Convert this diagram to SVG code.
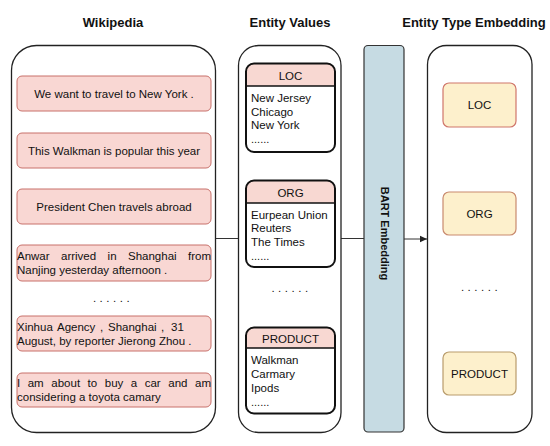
<svg xmlns="http://www.w3.org/2000/svg" width="550" height="446" viewBox="0 0 550 446">
<defs>
<style>
text{font-family:"Liberation Sans",Helvetica,Arial,sans-serif;fill:#111;}
.title{font-size:13px;font-weight:bold;text-anchor:middle;}
.t{font-size:11.5px;}
.c{text-anchor:middle;}
.e{text-anchor:end;}
.dots{font-size:11.5px;letter-spacing:3.5px;text-anchor:middle;}
.small{font-size:11px;}
.cont{fill:#fff;stroke:#222;stroke-width:1.3;}
.pink{fill:#f9d7d3;stroke:#c8716b;stroke-width:1;}
.tbl{fill:none;stroke:#111;stroke-width:2;}
.hdr{fill:#f8d8d2;}
.yel{fill:#fdf0cc;stroke-width:1.2;}
.conn{stroke:#333;stroke-width:1;fill:none;}
</style>
<marker id="arr" markerWidth="8" markerHeight="8" refX="7" refY="4" orient="auto" markerUnits="userSpaceOnUse">
<path d="M0,0.8 L7,4 L0,7.2 Z" fill="#222"/>
</marker>
</defs>
<rect width="550" height="446" fill="#fff"/>

<g id="titles">
<text class="title" x="113" y="27">Wikipedia</text>
<text class="title" x="290" y="27">Entity Values</text>
<text class="title" x="474" y="27">Entity Type Embedding</text>
</g>

<g id="connectors">
<line class="conn" x1="215" y1="238.5" x2="239" y2="238.5"/>
<line class="conn" x1="341" y1="238.5" x2="364" y2="238.5"/>
<line class="conn" x1="404" y1="239" x2="427" y2="239" marker-end="url(#arr)"/>
</g>

<g id="wikipedia">
<rect class="cont" x="11.5" y="45.5" width="204" height="387" rx="25"/>
<g id="w1"><rect class="pink" x="17" y="76" width="194" height="35" rx="5"/>
<text class="t c" x="114" y="97.5">We want to travel to New York .</text></g>
<g id="w2"><rect class="pink" x="17" y="133" width="194" height="35" rx="5"/>
<text class="t c" x="114" y="154.5">This Walkman is popular this year</text></g>
<g id="w3"><rect class="pink" x="17" y="189" width="194" height="35" rx="5"/>
<text class="t c" x="114" y="210.5">President Chen travels abroad</text></g>
<g id="w4"><rect class="pink" x="17" y="245" width="194" height="36" rx="5"/>
<text class="t" y="259.5"><tspan x="17">Anwar</tspan><tspan x="61">arrived</tspan><tspan x="107.6">in</tspan><tspan x="128">Shanghai</tspan><tspan x="211" text-anchor="end">from</tspan></text>
<text class="t" x="17" y="274">Nanjing yesterday afternoon .</text></g>
<text class="dots" x="113" y="302">......</text>
<g id="w5"><rect class="pink" x="17" y="316" width="194" height="35" rx="5"/>
<text class="t" y="331"><tspan x="17">Xinhua</tspan><tspan x="57">Agency</tspan><tspan x="100">,</tspan><tspan x="108">Shanghai</tspan><tspan x="161">,</tspan><tspan x="171">31</tspan></text>
<text class="t" x="17" y="345">August, by reporter Jierong Zhou .</text></g>
<g id="w6"><rect class="pink" x="17" y="373" width="194" height="34" rx="5"/>
<text class="t" y="387"><tspan x="17">I</tspan><tspan x="27.7">am</tspan><tspan x="51.3">about</tspan><tspan x="87.6">to</tspan><tspan x="104.8">buy</tspan><tspan x="130.8">a</tspan><tspan x="144.7">car</tspan><tspan x="168.3">and</tspan><tspan x="211" text-anchor="end">am</tspan></text>
<text class="t" x="17" y="401">considering a toyota camary</text></g>
</g>

<g id="entity-values">
<rect class="cont" x="238.5" y="45.5" width="102.5" height="387" rx="20"/>
<g id="ev-loc">
<path class="hdr" d="M246,86 V71 a8,8 0 0 1 8,-8 H327 a8,8 0 0 1 8,8 V86 Z"/>
<rect class="tbl" x="246" y="63.5" width="89" height="88.5" rx="8"/>
<line x1="246" y1="86" x2="335" y2="86" stroke="#111" stroke-width="1.5"/>
<text class="t c" x="290.5" y="80">LOC</text>
<text class="t" x="251" y="102">New Jersey</text>
<text class="t" x="251" y="115.5">Chicago</text>
<text class="t" x="251" y="129">New York</text>
<text class="small" x="251" y="143">......</text>
</g>
<g id="ev-org">
<path class="hdr" d="M246,203 V188 a8,8 0 0 1 8,-8 H327 a8,8 0 0 1 8,8 V203 Z"/>
<rect class="tbl" x="246" y="180.5" width="89" height="86.5" rx="8"/>
<line x1="246" y1="203" x2="335" y2="203" stroke="#111" stroke-width="1.5"/>
<text class="t c" x="290.5" y="196.5">ORG</text>
<text class="t" x="251" y="218.5">Eurpean Union</text>
<text class="t" x="251" y="232">Reuters</text>
<text class="t" x="251" y="245.5">The Times</text>
<text class="small" x="251" y="259.5">......</text>
</g>
<text class="dots" x="291.5" y="292">......</text>
<g id="ev-product">
<path class="hdr" d="M246,348 V335 a8,8 0 0 1 8,-8 H327 a8,8 0 0 1 8,8 V348 Z"/>
<rect class="tbl" x="246" y="327.5" width="89" height="86" rx="8"/>
<line x1="246" y1="348" x2="335" y2="348" stroke="#111" stroke-width="1.5"/>
<text class="t c" x="290.5" y="342.5">PRODUCT</text>
<text class="t" x="251" y="364">Walkman</text>
<text class="t" x="251" y="378">Carmary</text>
<text class="t" x="251" y="392">Ipods</text>
<text class="small" x="251" y="406">......</text>
</g>
</g>

<g id="bart">
<rect x="364" y="45.5" width="40" height="386.5" rx="4" fill="#c6dbe3" stroke="#333" stroke-width="1.2"/>
<text class="c" transform="translate(381,233.5) rotate(90)" x="0" y="0" style="font-size:11px;font-weight:bold;">BART Embedding</text>
</g>

<g id="entity-type-embedding">
<rect class="cont" x="427.5" y="45.5" width="104.5" height="387" rx="19"/>
<g id="et-loc"><rect class="yel" x="443" y="83" width="73" height="44" rx="6" stroke="#d0766b"/>
<text class="t c" x="479.5" y="109">LOC</text></g>
<g id="et-org"><rect class="yel" x="443" y="192" width="73" height="43" rx="6" stroke="#c98a6e"/>
<text class="t c" x="479.5" y="217.5">ORG</text></g>
<text class="dots" x="481" y="291">......</text>
<g id="et-product"><rect class="yel" x="443" y="352" width="73" height="43" rx="6" stroke="#b99c6c"/>
<text class="t c" x="479.5" y="377.5">PRODUCT</text></g>
</g>
</svg>
